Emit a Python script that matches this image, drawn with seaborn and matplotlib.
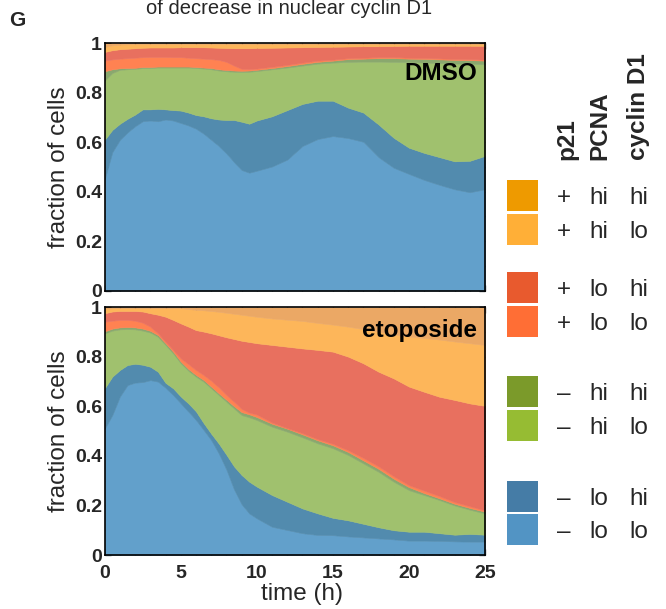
import numpy as np
import matplotlib
matplotlib.use("Agg")
import matplotlib.pyplot as plt
import seaborn as sns
from matplotlib.patches import Rectangle
from matplotlib.ticker import MultipleLocator, FixedLocator, FixedFormatter

# ---------------------------------------------------------------- data
time_h = [0, 0.5, 1, 1.5, 2, 2.5, 3, 3.5, 4, 4.5, 5, 5.5, 6, 6.5, 7, 7.5, 8, 8.5,
          9, 9.5, 10, 11, 12, 13, 14, 15, 16, 17, 18, 19, 20, 21, 22, 23, 24, 25]

# states, bottom of the stack first: (p21, PCNA, cyclin D1)
states = [("–", "lo", "lo"), ("–", "lo", "hi"),
          ("–", "hi", "lo"), ("–", "hi", "hi"),
          ("+", "lo", "lo"), ("+", "lo", "hi"),
          ("+", "hi", "lo"), ("+", "hi", "hi")]

# cumulative fraction of cells up to and including each state -- DMSO
dmso_lo_lo_neg = [0.45, 0.56, 0.61, 0.64, 0.665, 0.685, 0.688, 0.685, 0.692, 0.688, 0.678, 0.668,
                  0.655, 0.635, 0.61, 0.585, 0.555, 0.52, 0.488, 0.477, 0.485, 0.502, 0.53, 0.585,
                  0.613, 0.625, 0.617, 0.602, 0.54, 0.497, 0.472, 0.448, 0.428, 0.41, 0.398, 0.41]
dmso_lo_hi_neg = [0.61, 0.65, 0.675, 0.695, 0.712, 0.733, 0.733, 0.735, 0.733, 0.73, 0.728, 0.72,
                  0.71, 0.705, 0.697, 0.692, 0.69, 0.69, 0.683, 0.675, 0.688, 0.705, 0.73, 0.755,
                  0.768, 0.768, 0.74, 0.72, 0.672, 0.618, 0.578, 0.557, 0.54, 0.523, 0.525, 0.545]
dmso_hi_lo_neg = [0.85, 0.88, 0.893, 0.895, 0.897, 0.9, 0.9, 0.902, 0.902, 0.902, 0.902, 0.902,
                  0.9, 0.898, 0.895, 0.89, 0.887, 0.885, 0.884, 0.885, 0.888, 0.895, 0.902, 0.91,
                  0.918, 0.922, 0.925, 0.926, 0.926, 0.925, 0.924, 0.922, 0.92, 0.918, 0.917, 0.915]
dmso_hi_hi_neg = [0.887, 0.895, 0.899, 0.9, 0.901, 0.904, 0.904, 0.906, 0.906, 0.906, 0.906, 0.906,
                  0.904, 0.902, 0.9, 0.895, 0.892, 0.89, 0.889, 0.89, 0.893, 0.9, 0.908, 0.917,
                  0.925, 0.93, 0.936, 0.938, 0.94, 0.94, 0.938, 0.937, 0.935, 0.933, 0.932, 0.93]
dmso_lo_lo_pos = [0.93, 0.935, 0.938, 0.94, 0.942, 0.944, 0.945, 0.945, 0.945, 0.944, 0.944, 0.942,
                  0.94, 0.938, 0.936, 0.933, 0.925, 0.91, 0.897, 0.896, 0.898, 0.905, 0.913, 0.922,
                  0.93, 0.934, 0.94, 0.942, 0.944, 0.944, 0.942, 0.941, 0.939, 0.937, 0.936, 0.934]
dmso_lo_hi_pos = [0.965, 0.972, 0.976, 0.978, 0.98, 0.982, 0.983, 0.983, 0.983, 0.983, 0.984, 0.984,
                  0.984, 0.984, 0.983, 0.982, 0.981, 0.98, 0.98, 0.98, 0.981, 0.982, 0.983, 0.984,
                  0.985, 0.986, 0.987, 0.988, 0.988, 0.989, 0.99, 0.99, 0.99, 0.99, 0.99, 0.99]
dmso_hi_lo_pos = [0.985, 0.992, 0.995, 0.996, 0.997, 0.997, 0.997, 0.997, 0.997, 0.997, 0.997, 0.997,
                  0.997, 0.997, 0.997, 0.997, 0.997, 0.997, 0.997, 0.997, 0.997, 0.997, 0.997, 0.997,
                  0.997, 0.997, 0.997, 0.997, 0.997, 0.997, 0.997, 0.997, 0.997, 0.997, 0.996, 0.996]

# cumulative fraction of cells up to and including each state -- etoposide
etop_lo_lo_neg = [0.51, 0.565, 0.64, 0.686, 0.696, 0.698, 0.706, 0.70, 0.675, 0.646, 0.612, 0.579,
                  0.545, 0.505, 0.464, 0.41, 0.345, 0.265, 0.205, 0.168, 0.148, 0.114, 0.101, 0.088,
                  0.081, 0.08, 0.075, 0.071, 0.067, 0.063, 0.058, 0.058, 0.057, 0.055, 0.054, 0.054]
etop_lo_hi_neg = [0.673, 0.72, 0.747, 0.767, 0.772, 0.768, 0.76, 0.74, 0.695, 0.673, 0.64, 0.612,
                  0.58, 0.533, 0.49, 0.45, 0.405, 0.358, 0.323, 0.296, 0.276, 0.242, 0.215, 0.188,
                  0.168, 0.15, 0.14, 0.126, 0.112, 0.1, 0.094, 0.094, 0.088, 0.082, 0.085, 0.082]
etop_hi_lo_neg = [0.895, 0.906, 0.911, 0.912, 0.911, 0.906, 0.898, 0.881, 0.848, 0.814, 0.774, 0.744,
                  0.72, 0.70, 0.673, 0.646, 0.619, 0.592, 0.565, 0.556, 0.545, 0.518, 0.498, 0.475,
                  0.451, 0.431, 0.404, 0.37, 0.336, 0.296, 0.262, 0.242, 0.222, 0.2, 0.183, 0.168]
etop_hi_hi_neg = [0.903, 0.914, 0.919, 0.92, 0.919, 0.914, 0.905, 0.888, 0.855, 0.821, 0.781, 0.751,
                  0.727, 0.707, 0.68, 0.653, 0.627, 0.601, 0.577, 0.568, 0.557, 0.53, 0.51, 0.487,
                  0.463, 0.443, 0.416, 0.382, 0.348, 0.308, 0.274, 0.25, 0.229, 0.207, 0.19, 0.175]
etop_lo_lo_pos = [0.942, 0.946, 0.949, 0.949, 0.946, 0.938, 0.922, 0.895, 0.861, 0.828, 0.794, 0.771,
                  0.747, 0.727, 0.704, 0.677, 0.646, 0.619, 0.59, 0.575, 0.567, 0.535, 0.513, 0.492,
                  0.468, 0.449, 0.423, 0.392, 0.358, 0.318, 0.282, 0.26, 0.238, 0.214, 0.197, 0.18]
etop_lo_hi_pos = [0.976, 0.983, 0.985, 0.985, 0.985, 0.983, 0.976, 0.97, 0.962, 0.949, 0.935, 0.922,
                  0.908, 0.902, 0.895, 0.887, 0.879, 0.872, 0.865, 0.86, 0.855, 0.848, 0.841, 0.834,
                  0.828, 0.821, 0.801, 0.774, 0.74, 0.713, 0.68, 0.659, 0.639, 0.626, 0.612, 0.602]
etop_hi_lo_pos = [0.994, 0.996, 0.997, 0.997, 0.997, 0.997, 0.997, 0.997, 0.997, 0.997, 0.997, 0.993,
                  0.99, 0.988, 0.985, 0.982, 0.978, 0.974, 0.97, 0.966, 0.962, 0.955, 0.95, 0.945,
                  0.937, 0.93, 0.922, 0.912, 0.902, 0.89, 0.882, 0.876, 0.87, 0.862, 0.855, 0.848]

dmso_levels = [dmso_lo_lo_neg, dmso_lo_hi_neg, dmso_hi_lo_neg, dmso_hi_hi_neg,
               dmso_lo_lo_pos, dmso_lo_hi_pos, dmso_hi_lo_pos]
etop_levels = [etop_lo_lo_neg, etop_lo_hi_neg, etop_hi_lo_neg, etop_hi_hi_neg,
               etop_lo_lo_pos, etop_lo_hi_pos, etop_hi_lo_pos]

# fills in the plots and swatches in the key (same state order as above)
fill_colors = ["#62a0cb", "#528bae", "#a0c16e", "#8aa86e",
               "#ff8252", "#e8705f", "#fdb65a", "#eba865"]
key_colors = ["#5294c4", "#457ca6", "#96bc33", "#7b9a2a",
              "#ff6e35", "#e85a2e", "#ffaf37", "#ee9a00"]

# ---------------------------------------------------------------- style
sns.set_theme(style="ticks")
plt.rcParams["font.family"] = ["Liberation Sans", "DejaVu Sans"]
plt.rcParams["axes.linewidth"] = 1.2
plt.rcParams["axes.edgecolor"] = "black"

W, H = 666, 609
fig = plt.figure(figsize=(W / 100, H / 100), dpi=100)
fig.patch.set_facecolor("white")


def px_axes(x0, y0, x1, y1):
    return fig.add_axes([x0 / W, 1 - y1 / H, (x1 - x0) / W, (y1 - y0) / H])


ax_top = px_axes(104.7, 43.3, 485.0, 290.7)
ax_bot = px_axes(104.7, 307.3, 485.0, 555.0)


def fractions(levels):
    cum = np.vstack([np.zeros(len(time_h))] + [np.asarray(l) for l in levels]
                    + [np.ones(len(time_h))])
    return np.diff(cum, axis=0)


for ax, levels, name, ny in [(ax_top, dmso_levels, "DMSO", 0.852),
                             (ax_bot, etop_levels, "etoposide", 0.879)]:
    ax.stackplot(time_h, fractions(levels), colors=fill_colors,
                 edgecolor="face", linewidth=0.4)
    ax.set_xlim(0, 25)
    ax.set_ylim(0, 1)
    ax.xaxis.set_major_locator(MultipleLocator(5))
    ax.xaxis.set_minor_locator(MultipleLocator(1))
    ax.yaxis.set_major_locator(FixedLocator([0, 0.2, 0.4, 0.6, 0.8, 1.0]))
    ax.yaxis.set_major_formatter(FixedFormatter(["0", "0.2", "0.4", "0.6", "0.8", "1"]))
    ax.yaxis.set_minor_locator(MultipleLocator(0.1))
    ax.tick_params(which="both", direction="in", top=True, right=True,
                   color="black", width=0.9)
    ax.tick_params(which="major", length=4.5, labelsize=14)
    ax.tick_params(axis="y", which="major", pad=2.0)
    ax.tick_params(axis="x", which="major", pad=7.0)
    ax.tick_params(which="minor", length=2.5)
    for lab in ax.get_xticklabels() + ax.get_yticklabels():
        lab.set_fontweight("bold")
    ax.set_ylabel("fraction of cells", fontsize=17.5)
    ax.yaxis.set_label_coords(-0.09, 0.5)
    ax.text(0.978, ny, name, transform=ax.transAxes, ha="right", va="baseline",
            fontsize=17.5, fontweight="bold", color="black")
    for s in ax.spines.values():
        s.set_zorder(5)

ax_top.tick_params(labelbottom=False)
ax_bot.set_xlabel("time (h)", fontsize=17.5)
ax_bot.xaxis.set_label_coords(0.518, -0.112)

# ---------------------------------------------------------------- key and headings
key = fig.add_axes([0, 0, 1, 1], zorder=10)
key.set_xlim(0, W)
key.set_ylim(H, 0)
key.axis("off")
key.patch.set_alpha(0)

key.text(289, 14, "of decrease in nuclear cyclin D1", ha="center", va="baseline",
         fontsize=14.5)
key.text(9, 26, "G", ha="left", va="baseline", fontsize=15, fontweight="bold")

for label, xc in [("p21", 567), ("PCNA", 599.5), ("cyclin D1", 639)]:
    key.text(xc, 160, label, rotation=90, ha="center", va="bottom",
             fontsize=17.5, fontweight="bold")

row_top = [180, 214, 272, 306, 376, 410, 481, 514]
# key rows run from the top of the stack downwards
for i, (yt, st, col) in enumerate(zip(row_top, states[::-1], key_colors[::-1])):
    key.add_patch(Rectangle((506.7, yt), 31.7, 31, facecolor=col, edgecolor="none"))
    yc = yt + 15.8
    p21, pcna, ccnd = st
    key.text(564, yc, p21, ha="center", va="center_baseline", fontsize=17.5)
    key.text(589, yc, pcna, ha="left", va="center_baseline", fontsize=17.5)
    key.text(629, yc, ccnd, ha="left", va="center_baseline", fontsize=17.5)

fig.savefig("out.png", dpi=100, facecolor="white")
